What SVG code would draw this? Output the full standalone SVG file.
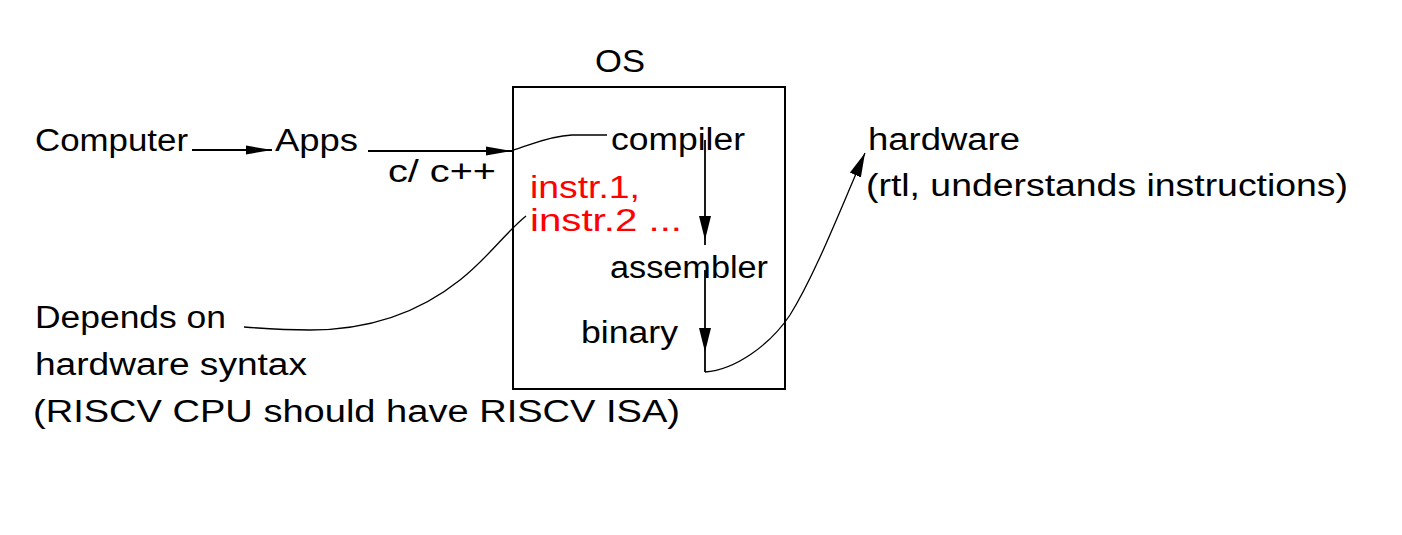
<svg xmlns="http://www.w3.org/2000/svg" width="1402" height="535" viewBox="0 0 1402 535">
<style>
text{font-family:"Liberation Sans",Arial,sans-serif;font-size:31px;fill:#000}
.red{fill:#ff0000}
.ln{fill:none;stroke:#000;stroke-width:1.8}
.cv{fill:none;stroke:#000;stroke-width:1.3}
.box{fill:none;stroke:#000;stroke-width:2}
</style>
<defs>
<marker id="ah" markerUnits="userSpaceOnUse" markerWidth="28" markerHeight="12" refX="26" refY="5" orient="auto">
<path d="M0,0.5 L26,5 L0,9.5 Z" fill="#000"/>
</marker>
<marker id="ah2" markerUnits="userSpaceOnUse" markerWidth="26" markerHeight="14" refX="24" refY="6" orient="auto">
<path d="M0,0 L24,6 L0,12 Z" fill="#000"/>
</marker>
</defs>
<rect width="1402" height="535" fill="#fff"/>
<g id="connectors">
<line class="ln" x1="192" y1="150" x2="272" y2="150" marker-end="url(#ah)"/>
<line class="ln" x1="368" y1="151" x2="512" y2="151" marker-end="url(#ah)"/>
<path class="cv" d="M513,150 C528,146 548,136 572,135 L607,135"/>
<line class="ln" x1="705" y1="140" x2="705" y2="240" marker-end="url(#ah2)"/>
<line class="ln" x1="705" y1="240" x2="705" y2="245"/>
<line class="ln" x1="705" y1="270" x2="705" y2="352" marker-end="url(#ah2)"/>
<line class="ln" x1="705" y1="352" x2="705" y2="372"/>
<path class="cv" d="M705,372 C735,370 770,345 790,315 C815,275 840,210 865,153" marker-end="url(#ah2)"/>
<path class="cv" d="M244,327 C270,329 290,330 310,330 C370,330 420,312 460,280 C488,258 505,233 526,216"/>
</g>
<g id="os">
<rect class="box" x="513" y="87" width="272" height="302"/>
<text x="595" y="72" textLength="50" lengthAdjust="spacingAndGlyphs">OS</text>
</g>
<g id="computer"><text x="35" y="151" textLength="153" lengthAdjust="spacingAndGlyphs">Computer</text></g>
<g id="apps"><text x="275" y="151" textLength="83" lengthAdjust="spacingAndGlyphs">Apps</text></g>
<g id="cpp"><text x="388" y="182" textLength="108" lengthAdjust="spacingAndGlyphs">c/  c++</text></g>
<g id="compiler"><text x="611" y="150" textLength="134" lengthAdjust="spacingAndGlyphs">compiler</text></g>
<g id="instr">
<text class="red" x="530" y="198" textLength="110" lengthAdjust="spacingAndGlyphs">instr.1,</text>
<text class="red" x="530" y="231" textLength="152" lengthAdjust="spacingAndGlyphs">instr.2  ...</text>
</g>
<g id="assembler"><text x="610" y="278" textLength="158" lengthAdjust="spacingAndGlyphs">assembler</text></g>
<g id="binary"><text x="581" y="343" textLength="97" lengthAdjust="spacingAndGlyphs">binary</text></g>
<g id="hardware">
<text x="868" y="150" textLength="152" lengthAdjust="spacingAndGlyphs">hardware</text>
<text x="866" y="196" textLength="482" lengthAdjust="spacingAndGlyphs">(rtl, understands instructions)</text>
</g>
<g id="depends">
<text x="35" y="328" textLength="191" lengthAdjust="spacingAndGlyphs">Depends on</text>
<text x="35" y="375" textLength="272" lengthAdjust="spacingAndGlyphs">hardware syntax</text>
<text x="33" y="422" textLength="647" lengthAdjust="spacingAndGlyphs">(RISCV CPU should have RISCV ISA)</text>
</g>
</svg>
